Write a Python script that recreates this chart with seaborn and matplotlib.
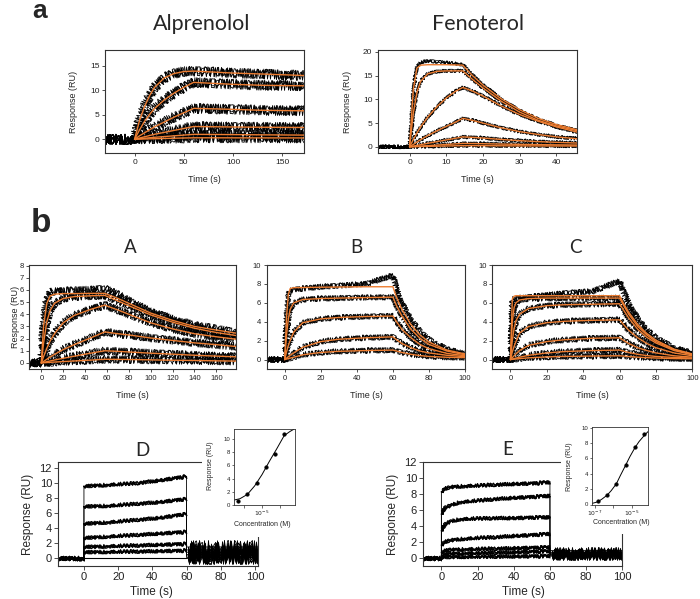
import numpy as np
import matplotlib
matplotlib.use("Agg")
import matplotlib.pyplot as plt
import seaborn as sns
from matplotlib.patches import Rectangle
from matplotlib.ticker import FixedLocator, FixedFormatter, NullLocator

# ------------------------------------------------------------------ data
# Alprenolol (panel a, left)
alp_t = [0, 5, 10, 15, 20, 30, 40, 50, 60, 80, 100, 130, 172]
alp_fit1 = [0, 3.8, 6.6, 8.8, 10.5, 12.5, 13.4, 13.8, 13.9, 13.7, 13.5, 13.3, 13.0]
alp_fit2 = [0, 1.9, 3.6, 5.0, 6.2, 8.0, 9.4, 10.6, 11.6, 11.4, 11.2, 11.0, 10.9]
alp_fit3 = [0, 0.7, 1.3, 1.9, 2.5, 3.5, 4.5, 5.4, 6.3, 6.2, 6.1, 5.9, 5.8]
alp_fit4 = [0, 0.25, 0.5, 0.75, 1.0, 1.4, 1.8, 2.2, 2.6, 2.55, 2.5, 2.45, 2.4]
alp_fit5 = [0, 0.1, 0.2, 0.3, 0.4, 0.55, 0.7, 0.85, 1.0, 0.98, 0.95, 0.9, 0.85]
alp_fit6 = [0, 0.03, 0.06, 0.09, 0.11, 0.16, 0.21, 0.26, 0.3, 0.3, 0.29, 0.28, 0.27]

# Fenoterol (panel a, right)
fen_t = [0, 1, 2, 3, 5, 7.5, 10, 12.5, 14.5, 17, 20, 25, 30, 35, 40, 45.6]
fen_fit1 = [0, 12, 16.6, 17.2, 17.3, 17.3, 17.3, 17.25, 17.2, 15.1, 13.0, 10.1, 7.8, 6.0, 4.7, 3.6]
fen_fit2 = [0, 7, 11.5, 13.8, 15.4, 15.9, 16.0, 16.0, 16.0, 14.3, 12.4, 9.6, 7.3, 5.6, 4.4, 3.4]
fen_fit3 = [0, 1.5, 2.9, 4.2, 6.3, 8.5, 10.3, 11.7, 12.5, 11.8, 10.7, 8.6, 6.8, 5.4, 4.2, 3.1]
fen_fit4 = [0, 0.5, 1.0, 1.5, 2.4, 3.4, 4.3, 5.2, 6.0, 5.6, 5.0, 4.0, 3.2, 2.6, 2.1, 1.7]
fen_fit5 = [0, 0.15, 0.3, 0.45, 0.75, 1.1, 1.45, 1.8, 2.1, 2.0, 1.85, 1.55, 1.3, 1.1, 0.95, 0.8]
fen_fit6 = [0, 0.05, 0.1, 0.15, 0.25, 0.37, 0.5, 0.62, 0.72, 0.7, 0.66, 0.58, 0.52, 0.46, 0.42, 0.38]
fen_fit7 = [0, 0.02, 0.04, 0.06, 0.1, 0.14, 0.18, 0.22, 0.25, 0.25, 0.24, 0.22, 0.2, 0.19, 0.18, 0.17]
fen_data1 = [0, 12, 16.8, 17.8, 18.1, 17.9, 17.7, 17.5, 17.3, 15.2, 13.0, 10.0, 7.6, 5.8, 4.5, 3.4]

# Panel A
a_t = [0, 2, 5, 8, 12, 20, 30, 45, 58, 70, 80, 100, 120, 140, 160, 178]
a_fit1 = [0, 3.0, 4.9, 5.5, 5.65, 5.7, 5.7, 5.72, 5.72, 5.3, 4.9, 4.1, 3.5, 3.0, 2.7, 2.45]
a_fit2 = [0, 1.6, 3.4, 4.3, 4.9, 5.3, 5.45, 5.52, 5.55, 5.1, 4.7, 3.95, 3.35, 2.85, 2.5, 2.25]
a_fit3 = [0, 0.5, 1.2, 1.8, 2.4, 3.3, 3.9, 4.4, 4.75, 4.35, 4.0, 3.3, 2.8, 2.4, 2.15, 1.95]
a_fit4 = [0, 0.12, 0.3, 0.48, 0.7, 1.1, 1.5, 2.05, 2.55, 2.4, 2.3, 2.05, 1.85, 1.65, 1.5, 1.35]
a_fit5 = [0, 0.04, 0.1, 0.16, 0.24, 0.38, 0.55, 0.8, 1.0, 0.95, 0.9, 0.8, 0.72, 0.63, 0.56, 0.5]
a_fit6 = [0, 0.01, 0.03, 0.05, 0.07, 0.11, 0.16, 0.23, 0.3, 0.29, 0.28, 0.25, 0.22, 0.2, 0.17, 0.15]
a_data1 = [0, 3.2, 5.2, 5.8, 5.9, 5.9, 5.95, 6.0, 6.1, 5.6, 5.1, 4.2, 3.6, 3.1, 2.8, 2.5]

# Panel B
b_t = [0, 1, 2, 3, 5, 10, 20, 30, 45, 60, 62, 65, 70, 75, 80, 90, 100]
b_fit1 = [0, 4.5, 6.9, 7.5, 7.6, 7.62, 7.65, 7.67, 7.7, 7.7, 6.6, 5.3, 3.7, 2.6, 1.85, 1.0, 0.6]
b_fit2 = [0, 2.6, 4.3, 5.3, 6.0, 6.35, 6.45, 6.5, 6.55, 6.6, 5.7, 4.6, 3.2, 2.25, 1.6, 0.9, 0.5]
b_fit3 = [0, 0.8, 1.5, 2.0, 2.9, 3.9, 4.3, 4.45, 4.55, 4.6, 4.0, 3.2, 2.3, 1.6, 1.15, 0.65, 0.4]
b_fit4 = [0, 0.15, 0.3, 0.45, 0.7, 1.3, 1.9, 2.15, 2.3, 2.4, 2.1, 1.7, 1.25, 0.9, 0.7, 0.45, 0.3]
b_fit5 = [0, 0.05, 0.1, 0.15, 0.25, 0.5, 0.75, 0.87, 0.95, 1.0, 0.9, 0.75, 0.55, 0.42, 0.33, 0.24, 0.2]
b_data1 = [0, 4.5, 6.9, 7.3, 7.4, 7.5, 7.7, 7.8, 8.0, 8.9, 7.5, 6.0, 4.2, 3.0, 2.1, 1.1, 0.6]

# Panel C
c_t = [0, 1, 2, 3, 5, 10, 20, 30, 45, 60, 62, 65, 70, 75, 80, 90, 100]
c_fit1 = [0, 6.4, 6.7, 6.75, 6.75, 6.75, 6.75, 6.75, 6.75, 6.75, 6.0, 5.0, 3.7, 2.75, 2.05, 1.1, 0.6]
c_fit2 = [0, 4.0, 5.5, 6.0, 6.3, 6.45, 6.5, 6.5, 6.5, 6.5, 5.8, 4.8, 3.5, 2.6, 1.9, 1.05, 0.55]
c_fit3 = [0, 2.0, 3.3, 4.1, 4.8, 5.4, 5.7, 5.8, 5.85, 5.9, 5.3, 4.4, 3.2, 2.35, 1.75, 0.95, 0.5]
c_fit4 = [0, 0.8, 1.4, 1.9, 2.8, 3.5, 3.9, 4.05, 4.15, 4.2, 3.75, 3.1, 2.3, 1.7, 1.25, 0.7, 0.4]
c_fit5 = [0, 0.2, 0.4, 0.6, 0.95, 1.5, 1.9, 2.1, 2.25, 2.3, 2.05, 1.7, 1.25, 0.95, 0.7, 0.4, 0.25]
c_fit6 = [0, 0.05, 0.1, 0.15, 0.25, 0.45, 0.7, 0.85, 0.95, 1.0, 0.9, 0.75, 0.55, 0.42, 0.33, 0.22, 0.15]
c_fit7 = [0, 0.02, 0.04, 0.06, 0.1, 0.18, 0.28, 0.33, 0.37, 0.4, 0.37, 0.32, 0.25, 0.2, 0.16, 0.1, 0.08]
c_data1 = [0, 6.3, 6.5, 6.5, 6.5, 6.6, 6.8, 7.0, 7.2, 8.3, 7.2, 6.0, 4.3, 3.1, 2.3, 1.2, 0.7]

# Panel D (association phase, then dissociation level)
d_t = [0, 15, 30, 45, 60]
d_tr1 = [9.6, 9.8, 10.0, 10.4, 10.9]
d_tr2 = [6.9, 7.0, 7.25, 7.5, 7.9]
d_tr3 = [4.6, 4.8, 5.1, 5.4, 5.9]
d_tr4 = [2.7, 2.9, 3.1, 3.3, 3.5]
d_tr5 = [1.5, 1.6, 1.7, 1.8, 1.9]
d_tr6 = [0.8, 0.85, 0.9, 0.95, 1.0]
d_after = [1.5, 1.1, 0.8, 0.5, 0.3, 0.1]
d_conc = [5.1e-7, 1.6e-6, 5.1e-6, 1.6e-5, 5.1e-5, 1.6e-4]
d_resp = [0.6, 1.7, 3.4, 5.8, 7.7, 10.7]
d_curve_x = [3.0e-7, 6.3e-7, 1.6e-6, 4.0e-6, 1.0e-5, 2.5e-5, 6.3e-5, 1.6e-4, 3.2e-4, 5.6e-4]
d_curve_y = [0.75, 0.95, 1.6, 2.9, 4.6, 6.6, 8.5, 10.5, 11.1, 11.5]

# Panel E
e_t = [0, 2, 5, 10, 20, 30, 40, 50, 60]
e_tr1 = [8.3, 8.7, 8.9, 9.0, 9.1, 9.2, 9.3, 9.35, 9.5]
e_tr2 = [5.5, 6.3, 6.6, 7.0, 7.2, 7.4, 7.55, 7.65, 7.8]
e_tr3 = [3.4, 4.2, 4.6, 4.85, 4.95, 5.0, 5.0, 5.05, 5.1]
e_tr4 = [1.6, 2.0, 2.2, 2.35, 2.5, 2.6, 2.75, 2.85, 3.0]
e_tr5 = [0.7, 0.9, 1.0, 1.05, 1.1, 1.15, 1.2, 1.25, 1.3]
e_tr6 = [0.3, 0.45, 0.5, 0.55, 0.6, 0.65, 0.7, 0.75, 0.8]
e_tr7 = [0.05, 0.08, 0.1, 0.12, 0.14, 0.16, 0.18, 0.19, 0.2]
e_after = [0.9, 0.7, 0.6, 0.5, 0.4, 0.3, 0.2]
e_conc = [1.5e-7, 4.7e-7, 1.5e-6, 4.7e-6, 1.5e-5, 4.8e-5]
e_resp = [0.43, 1.2, 2.65, 5.1, 7.5, 9.2]
e_curve_x = [7.6e-8, 1.5e-7, 2.5e-7, 4.7e-7, 7.9e-7, 1.5e-6, 2.5e-6, 4.7e-6, 7.9e-6, 1.5e-5, 2.5e-5, 4.8e-5, 7.6e-5]
e_curve_y = [0.15, 0.35, 0.7, 1.2, 1.8, 2.7, 3.8, 5.1, 6.2, 7.4, 8.2, 9.0, 9.5]

# ------------------------------------------------------------------ style
sns.set_theme(style="ticks")
plt.rcParams["font.family"] = ["Liberation Sans", "DejaVu Sans"]
ORANGE = "#ED7D31"
SPINE = "#333333"
W, H = 700, 599
fig = plt.figure(figsize=(7.0, 5.99), dpi=100)
NOISE_R = (4.0, 5.3, 6.7)   # sketch randomness for overlaid copies


def add_ax(x0, x1, y0, y1, z=0):
    ax = fig.add_axes([x0 / W, 1 - y1 / H, (x1 - x0) / W, (y1 - y0) / H])
    ax.set_zorder(z)
    return ax


def style(ax, fs, xt, yt, xlim, ylim, tl=2.5):
    ax.set_xlim(*xlim)
    ax.set_ylim(*ylim)
    if xt is not None:
        ax.set_xticks(xt)
    ax.set_yticks(yt)
    for s in ax.spines.values():
        s.set_color(SPINE)
        s.set_linewidth(0.8)
    ax.tick_params(direction="out", length=tl, width=0.6, labelsize=fs, pad=1.5,
                   colors=SPINE, labelcolor="#222222")
    ax.set_xlabel("")
    ax.set_ylabel("")


def draw(ax, t, v, color="black", lw=0.7, noise=None, z=2, copies=NOISE_R):
    t = np.asarray(t, dtype=float)
    v = np.asarray(v, dtype=float)
    if noise is None:
        sns.lineplot(x=t, y=v, ax=ax, color=color, linewidth=lw, sort=False,
                     estimator=None, zorder=z)
        return
    for r in copies:
        n = len(ax.lines)
        sns.lineplot(x=t, y=v, ax=ax, color=color, linewidth=lw, sort=False,
                     estimator=None, zorder=z)
        for ln in ax.lines[n:]:
            ln.set_sketch_params(noise, 1.0, r)


def kinetic(ax, t, fits, datas, x0, noise, lw=0.6):
    for d in datas:
        draw(ax, [x0] + list(t), [0] + list(d), "black", lw, noise, 2)
    for f in fits:
        draw(ax, t, f, ORANGE, 1.0, None, 3)


def ftext(x, y, s, **kw):
    fig.text(x / W, 1 - y / H, s, **kw)


# ---------------------------------------------------------- panel a
ax = add_ax(105, 304, 50, 153)
fits = [alp_fit1, alp_fit2, alp_fit3, alp_fit4, alp_fit5, alp_fit6]
kinetic(ax, alp_t, fits, fits, -30, 5.0)
style(ax, 6, [0, 50, 100, 150], [0, 5, 10, 15], (-30, 172), (-2.8, 18.2))

ax = add_ax(378, 577, 50, 153)
fits = [fen_fit1, fen_fit2, fen_fit3, fen_fit4, fen_fit5, fen_fit6, fen_fit7]
datas = [fen_data1] + fits[1:]
kinetic(ax, fen_t, fits, datas, -8.6, 1.8)
style(ax, 6, [0, 10, 20, 30, 40], [0, 5, 10, 15, 20], (-8.6, 45.6), (-1.3, 20.4))

for cx in (204.5, 477.5):
    ftext(cx, 180, "Time (s)", ha="center", va="center", fontsize=6.5)
ftext(74, 101.5, "Response (RU)", ha="center", va="center", rotation=90, fontsize=6.5)
ftext(347, 101.5, "Response (RU)", ha="center", va="center", rotation=90, fontsize=6.5)
ftext(202, 30.5, "Alprenolol", ha="center", va="baseline", fontsize=15.5, family=["Lato", "DejaVu Sans"])
ftext(478, 29.5, "Fenoterol", ha="center", va="baseline", fontsize=15.5, family=["Lato", "DejaVu Sans"])
ftext(32, 17.5, "a", ha="left", va="baseline", fontsize=19, fontweight="bold")

# ---------------------------------------------------------- panel b row 1
ax = add_ax(29.3, 236, 265, 369)
fits = [a_fit1, a_fit2, a_fit3, a_fit4, a_fit5, a_fit6]
kinetic(ax, a_t, fits, [a_data1] + fits[1:], -11, 4.0)
style(ax, 5.5, [0, 20, 40, 60, 80, 100, 120, 140, 160], list(range(0, 9)), (-11, 178), (-0.5, 8.05))

ax = add_ax(266.7, 465, 265, 369)
fits = [b_fit1, b_fit2, b_fit3, b_fit4, b_fit5]
kinetic(ax, b_t, fits, [b_data1] + fits[1:], -10, 2.8)
style(ax, 5.5, [0, 20, 40, 60, 80, 100], [0, 2, 4, 6, 8, 10], (-10, 100), (-1, 10))

ax = add_ax(492.3, 692.3, 265, 369)
fits = [c_fit1, c_fit2, c_fit3, c_fit4, c_fit5, c_fit6, c_fit7]
kinetic(ax, c_t, fits, [c_data1] + fits[1:], -10, 3.0)
style(ax, 5.5, [0, 20, 40, 60, 80, 100], [0, 2, 4, 6, 8, 10], (-10, 100), (-1, 10))

for cx in (132.7, 366, 592.3):
    ftext(cx, 395, "Time (s)", ha="center", va="center", fontsize=6.5)
ftext(15, 317, "Response (RU)", ha="center", va="center", rotation=90, fontsize=6.5)
for cx, by, s in ((130, 253.3, "A"), (356, 253.3, "B"), (575, 252.7, "C"),
                  (142.7, 456, "D"), (507.3, 455, "E")):
    ftext(cx, by, s, ha="center", va="baseline", fontsize=13.5, family=["Lato", "DejaVu Sans"])
ftext(31, 232.5, "b", ha="left", va="baseline", fontsize=24, fontweight="bold")


# ---------------------------------------------------------- panel b row 2
def square(ax, t, traces, after, x0, x1, n_base, n_plat, n_after):
    for tr, lev in zip(traces, after):
        draw(ax, [x0, 0, 0] + list(t) + [t[-1], x1], [0, 0, tr[0]] + list(tr) + [lev, lev],
             "black", 0.6, None, 2)
        draw(ax, [x0, 0], [0, 0], "black", 0.7, n_base, 2)
        draw(ax, t, tr, "black", 0.9, n_plat, 2)
        draw(ax, [t[-1] + 1, x1], [lev, lev], "black", 0.6, n_after, 2)


ax = add_ax(58.3, 258.3, 462.3, 565.7)
square(ax, d_t, [d_tr1, d_tr2, d_tr3, d_tr4, d_tr5, d_tr6], d_after, -15, 102, 2.2, 1.8, 7.0)
draw(ax, [0, 60], [0, 0], "black", 0.8, None, 2)
style(ax, 8, [0, 20, 40, 60, 80, 100], [0, 2, 4, 6, 8, 10, 12], (-15, 102), (-1, 12.8), tl=3)

ax = add_ax(423.3, 622.3, 461.7, 565.7)
square(ax, e_t, [e_tr1, e_tr2, e_tr3, e_tr4, e_tr5, e_tr6, e_tr7], e_after, -10, 100, 2.2, 1.8, 4.0)
style(ax, 8, [0, 20, 40, 60, 80, 100], [0, 2, 4, 6, 8, 10, 12], (-10, 100), (-1, 12.1), tl=3)

ftext(151, 592.5, "Time (s)", ha="center", va="center", fontsize=8.5)
ftext(523, 592.3, "Time (s)", ha="center", va="center", fontsize=8.5)
ftext(28, 514, "Response (RU)", ha="center", va="center", rotation=90, fontsize=8.5)
ftext(393, 514, "Response (RU)", ha="center", va="center", rotation=90, fontsize=8.5)

# white backgrounds for insets
fig.add_artist(Rectangle((201.7 / W, 1 - 537 / H), 100 / W, 130 / H, transform=fig.transFigure,
                         facecolor="white", edgecolor="none", zorder=1))
fig.add_artist(Rectangle((560.5 / W, 1 - 533.5 / H), 100 / W, 125 / H, transform=fig.transFigure,
                         facecolor="white", edgecolor="none", zorder=1))


def inset(ax, cx, cy, px, py, xlim, ylim, majors, labels):
    sns.lineplot(x=cx, y=cy, ax=ax, color="black", linewidth=0.7, sort=False, estimator=None)
    sns.scatterplot(x=px, y=py, ax=ax, color="black", s=7, edgecolor="black", linewidth=0.3, zorder=3)
    ax.set_xscale("log")
    ax.set_xlim(*xlim)
    ax.set_ylim(*ylim)
    ax.xaxis.set_major_locator(FixedLocator(majors))
    ax.xaxis.set_major_formatter(FixedFormatter(labels))
    ax.xaxis.set_minor_locator(NullLocator())
    ax.set_yticks([0, 2, 4, 6, 8, 10])
    for s in ax.spines.values():
        s.set_color(SPINE)
        s.set_linewidth(0.6)
    ax.tick_params(direction="out", length=1.8, width=0.5, labelsize=4.3, pad=1,
                   colors=SPINE, labelcolor="#222222")
    ax.set_xlabel("")
    ax.set_ylabel("")


axi = add_ax(234, 295, 429, 505, z=2)
inset(axi, d_curve_x, d_curve_y, d_conc, d_resp, (3.0e-7, 6.2e-4), (0, 11.5),
      [1e-6, 1e-5, 1e-4], ["", r"$10^{-5}$", ""])
axi = add_ax(592.3, 648, 427, 504.5, z=2)
inset(axi, e_curve_x, e_curve_y, e_conc, e_resp, (7.6e-8, 7.6e-5), (0, 10.1),
      [1e-7, 1e-6, 1e-5], [r"$10^{-7}$", "", r"$10^{-5}$"])

ftext(262.5, 525, "Concentration (M)", ha="center", va="center", fontsize=5)
ftext(621.7, 523, "Concentration (M)", ha="center", va="center", fontsize=5)
ftext(210, 466, "Response (RU)", ha="center", va="center", rotation=90, fontsize=5)
ftext(569.3, 467, "Response (RU)", ha="center", va="center", rotation=90, fontsize=5)

fig.savefig("out.png", dpi=100)
